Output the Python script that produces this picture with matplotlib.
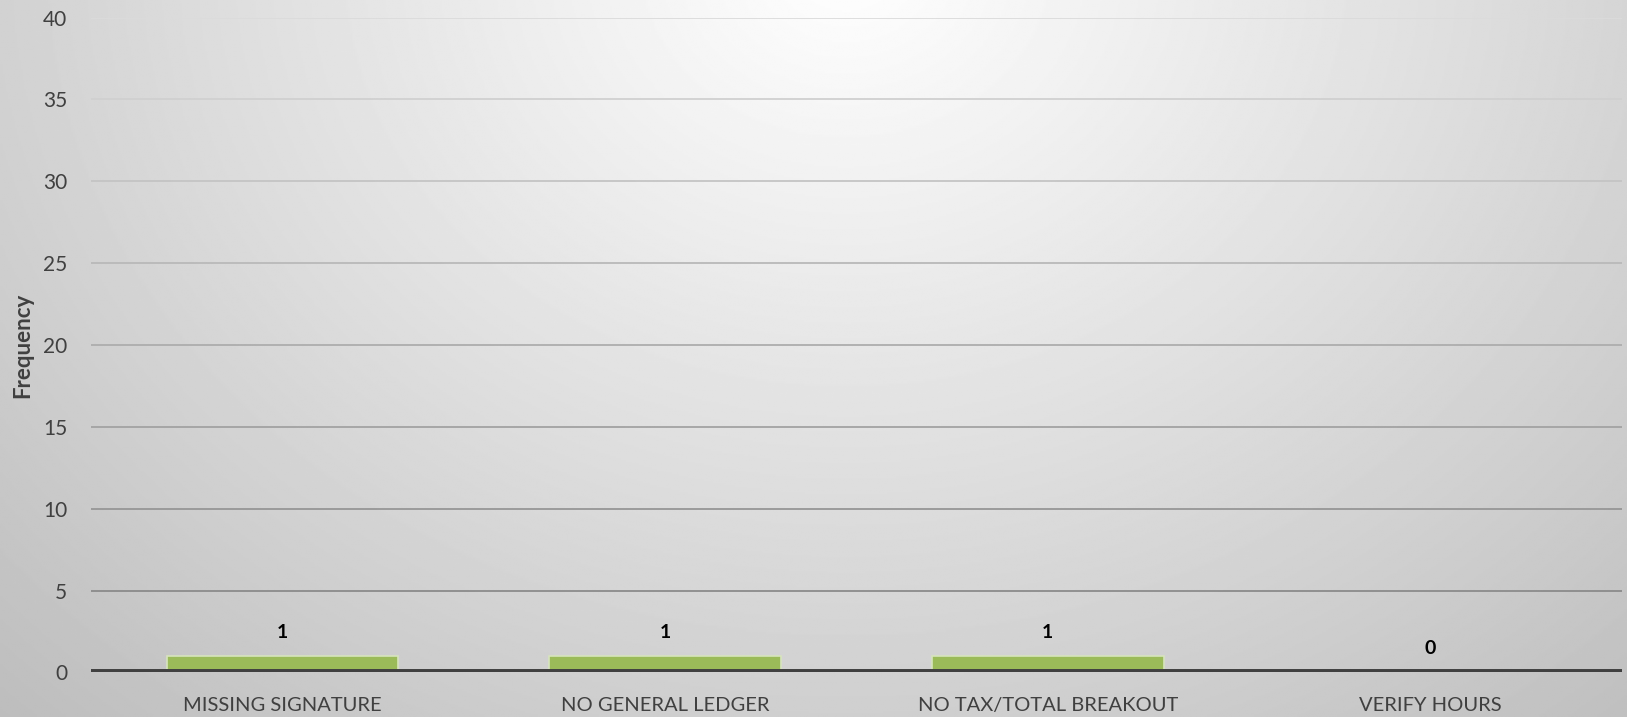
import numpy as np
import matplotlib
matplotlib.use("Agg")
import matplotlib.pyplot as plt

plt.rcParams['font.family'] = ['Lato', 'DejaVu Sans']

categories = ['MISSING SIGNATURE', 'NO GENERAL LEDGER', 'NO TAX/TOTAL BREAKOUT', 'VERIFY HOURS']
frequency = [1, 1, 1, 0]
y_ticks = [0, 5, 10, 15, 20, 25, 30, 35, 40]

fig = plt.figure(figsize=(16.27, 7.17), dpi=100)

# soft radial backdrop, brightest at the top centre
bg = fig.add_axes([0, 0, 1, 1], zorder=-10)
yy, xx = np.mgrid[0:1:400j, 0:1:900j]
d = np.sqrt(((xx - 0.52) / 0.55) ** 2 + ((yy + 0.05) / 1.05) ** 2)
shade = np.clip(255 - 48 * d, 185, 255) / 255.0
bg.imshow(shade, cmap='gray', vmin=0, vmax=1, aspect='auto', extent=[0, 1, 1, 0])
bg.axis('off')

ax = fig.add_axes([0.0559, 0.0621, 0.9410, 0.9134])
ax.patch.set_alpha(0)

x = np.arange(len(categories))
bars = ax.bar(x, frequency, width=0.605, color='#9BBB59', edgecolor='#D7E4BD',
              linewidth=1.2, zorder=3)
for xi, v in zip(x, frequency):
    ax.text(xi, v + 0.95, str(v), ha='center', va='bottom', fontsize=14,
            fontweight='bold', color='black')

ax.set_xlim(-0.5, len(categories) - 0.5)
ax.set_ylim(0, 40)
ax.set_yticks(y_ticks)
ax.set_xticks(x)
ax.set_xticklabels(categories, fontsize=14.5)
ax.tick_params(axis='both', length=0, colors='#404040')
ax.tick_params(axis='y', labelsize=15, pad=17)
ax.tick_params(axis='x', pad=18)

# gridlines darken toward the baseline
for t in y_ticks[1:]:
    g = 0.5 + 0.36 * (t / 40)
    ax.axhline(t, color=(g, g, g), linewidth=1.3, zorder=1)
ax.axhline(0, color='#404040', linewidth=5, zorder=4)

for s in ax.spines.values():
    s.set_visible(False)

fig.text(23 / 1627, 0.518, 'Frequency', rotation=90, ha='center', va='center',
         fontsize=16, fontweight='bold', color='#404040')

fig.savefig('out.png', dpi=100)
